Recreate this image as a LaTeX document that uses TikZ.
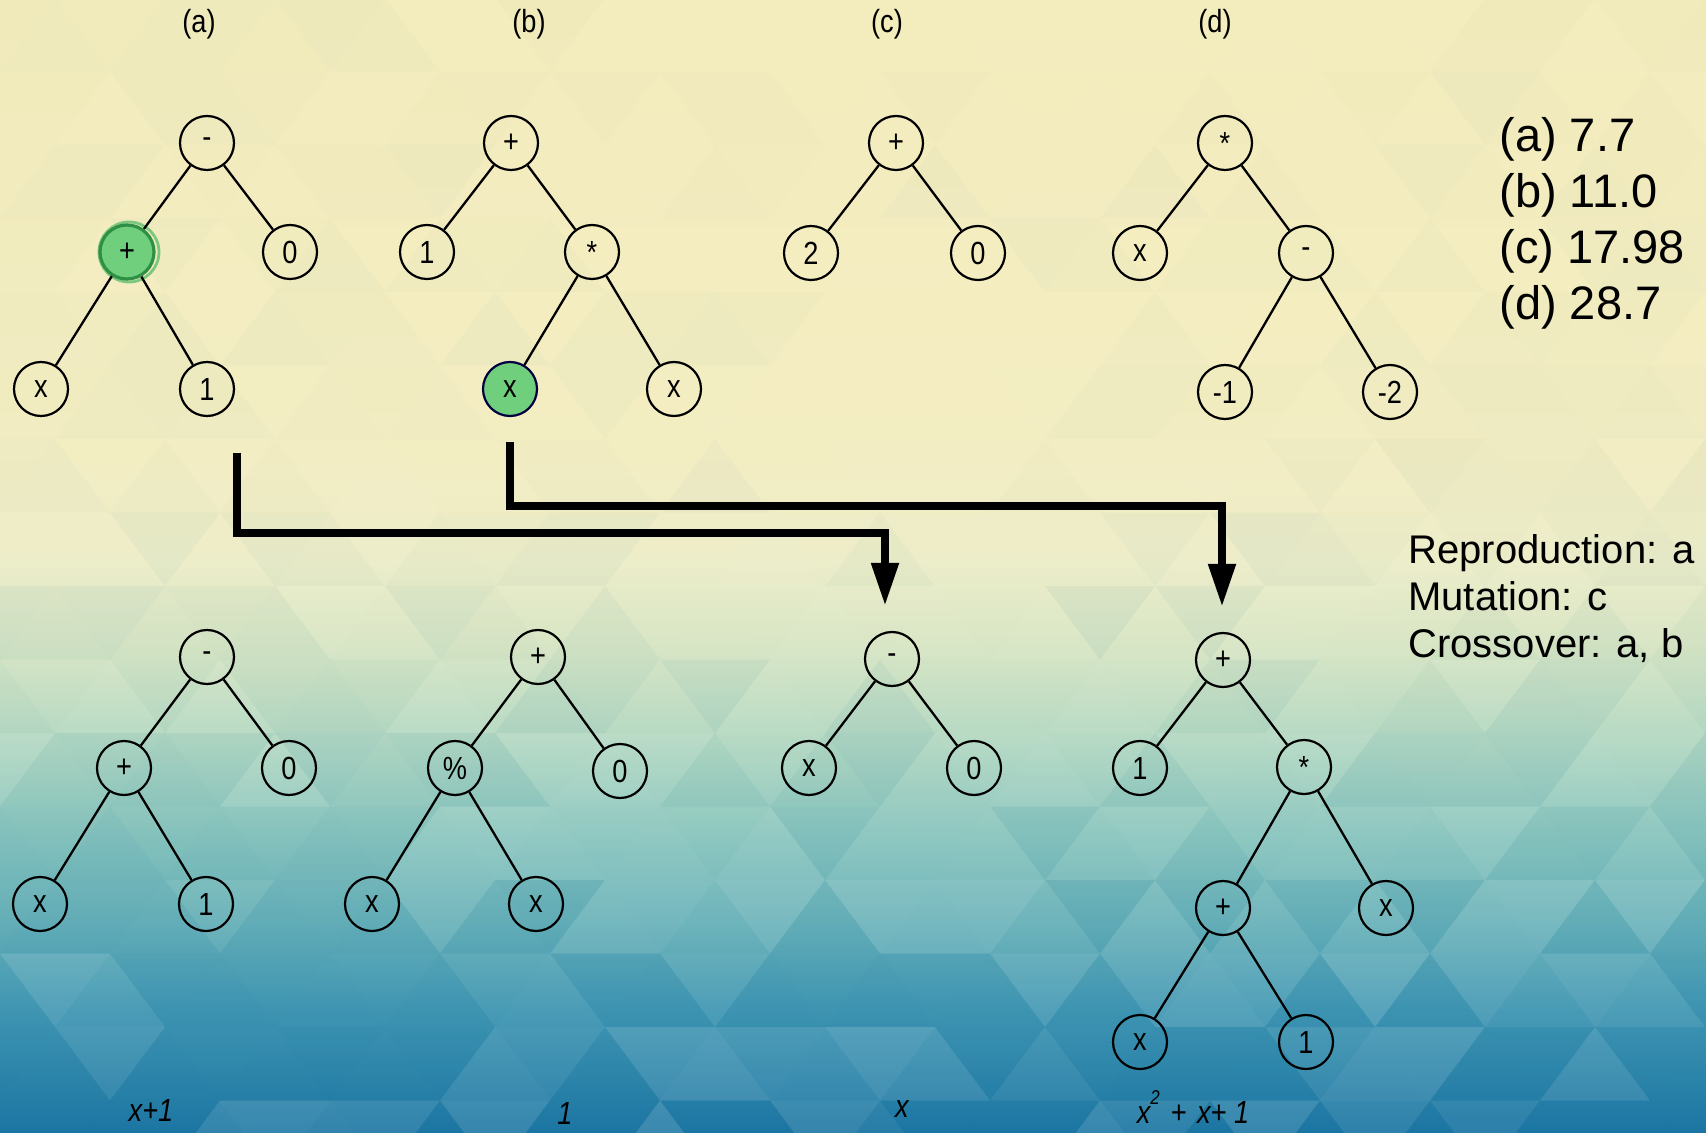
\documentclass[tikz,border=0pt]{standalone}
\usepackage{fontspec}
\setmainfont{Liberation Sans}
\setsansfont{Liberation Sans}
\newfontfamily\narrowsans[FakeStretch=0.85]{Liberation Sans}
\usetikzlibrary{arrows.meta}

% background palette, top (pale yellow) to bottom (deep blue)
\definecolor{bg0}{HTML}{F3ECBC}
\definecolor{bg1}{HTML}{F3EDC2}
\definecolor{bg2}{HTML}{EDEDC8}
\definecolor{bg3}{HTML}{D6E5C4}
\definecolor{bg4}{HTML}{B3D8C2}
\definecolor{bg5}{HTML}{8BC6BE}
\definecolor{bg6}{HTML}{69B2B9}
\definecolor{bg7}{HTML}{4197B3}
\definecolor{bg8}{HTML}{1C76A3}
\definecolor{selgreen}{HTML}{6FCF7D}
\definecolor{selring}{HTML}{2F8F45}
\definecolor{halogreen}{HTML}{4CB863}

\pgfdeclareverticalshading{skyfade}{100bp}{%
  color(0bp)=(bg8); color(25bp)=(bg8); color(30.43bp)=(bg7);
  color(34.40bp)=(bg6); color(38.37bp)=(bg5); color(42.34bp)=(bg4);
  color(46.32bp)=(bg3); color(50.29bp)=(bg2); color(55.14bp)=(bg1);
  color(75bp)=(bg0); color(100bp)=(bg0)}

\tikzset{
  gp/.style={circle, draw=black, line width=1.1pt, minimum size=27pt,
    inner sep=0pt, font=\narrowsans\fontsize{16}{16}\selectfont},
  gpsel/.style={gp, fill=selgreen},
  branch/.style={line width=1.15pt},
  flow/.style={line width=4pt, line join=miter,
    -{Triangle[length=21.5pt,width=13pt]}, shorten >=12.5pt},
  tag/.style={font=\narrowsans\fontsize{16}{16}\selectfont},
  score/.style={anchor=base west, inner sep=0pt, font=\fontsize{23.5}{28}\selectfont},
  opsline/.style={anchor=base west, inner sep=0pt, font=\fontsize{20}{24}\selectfont},
  formula/.style={font=\narrowsans\itshape\fontsize{16}{16}\selectfont},
}

\begin{document}
\begin{tikzpicture}[x=0.5pt, y=-0.5pt]
\useasboundingbox (0,0) rectangle (1706,1133);

% ---------- background: gradient with a faint low-poly triangle lattice
\shade[shading=skyfade] (0,0) rectangle (1706,1133);
\pgfmathsetseed{42}
\begin{scope}
\clip (0,0) rectangle (1706,1133);
\foreach \r in {0,...,15}{
  \foreach \i in {-1,...,16}{
    \pgfmathsetmacro{\ya}{-2+\r*73.5}
    \pgfmathsetmacro{\yb}{\ya+73.5}
    \pgfmathsetmacro{\xa}{\i*110+mod(\r,2)*55}
    \pgfmathsetmacro{\amp}{0.02+0.12*max(0,min(1,(\ya-350)/700))}
    % lighter towards the middle, darker towards the sides
    \pgfmathsetmacro{\pw}{0.78-0.6*abs(\xa+55-880)/880}
    \pgfmathsetmacro{\oa}{(0.3+0.7*rnd)*\amp}
    \pgfmathsetmacro{\ob}{(0.3+0.7*rnd)*\amp}
    \pgfmathtruncatemacro{\sa}{rnd<\pw}
    \pgfmathtruncatemacro{\sb}{rnd<\pw}
    \ifnum\sa=1 \def\ca{white}\else\def\ca{bg8}\fi
    \ifnum\sb=1 \def\cb{white}\else\def\cb{bg8}\fi
    \fill[\ca, fill opacity=\oa] (\xa,\yb) -- ++(110,0) -- ++(-55,-73.5) -- cycle;
    \fill[\cb, fill opacity=\ob] (\xa+55,\ya) -- ++(110,0) -- ++(-55,73.5) -- cycle;
  }
}
\end{scope}

% ---------- generation labels
\node[tag] (ta) at (199,24) {(a)};
\node[tag] (tb) at (529,24) {(b)};
\node[tag] (tc) at (887,24) {(c)};
\node[tag] (td) at (1215,24) {(d)};

% ---------- parent (a): (x+1) - 0
\node[gp] (a1) at (207,143) {-};
\node[circle, minimum size=30pt, inner sep=0pt, draw=halogreen, line width=1.4pt,
      draw opacity=0.7] (a2h) at (129,252) {};
\node[gpsel, draw=selring, line width=1.6pt] (a2) at (127,252) {+};
\node[gp] (a3) at (290,252) {0};
\node[gp] (a4) at (41,389) {x};
\node[gp] (a5) at (207,389) {1};
\draw[branch] (a1) -- (a2) (a1) -- (a3) (a2) -- (a4) (a2) -- (a5);

% ---------- parent (b): 1 + x*x
\node[gp] (b1) at (511,143) {+};
\node[gp] (b2) at (427,252) {1};
\node[gp] (b3) at (592,252) {*};
\node[gpsel, draw=black!75!blue] (b4) at (510,389) {x};
\node[gp] (b5) at (674,389) {x};
\draw[branch] (b1) -- (b2) (b1) -- (b3) (b3) -- (b4) (b3) -- (b5);

% ---------- parent (c): 2 + 0
\node[gp] (c1) at (896,143) {+};
\node[gp] (c2) at (811,253) {2};
\node[gp] (c3) at (978,253) {0};
\draw[branch] (c1) -- (c2) (c1) -- (c3);

% ---------- parent (d): x * (-1 - -2)
\node[gp] (d1) at (1225,143) {*};
\node[gp] (d2) at (1140,253) {x};
\node[gp] (d3) at (1306,253) {-};
\node[gp] (d4) at (1225,392) {-1};
\node[gp] (d5) at (1390,392) {-2};
\draw[branch] (d1) -- (d2) (d1) -- (d3) (d3) -- (d4) (d3) -- (d5);

% ---------- fitness values
\node[score] (fa) at (1499,152) {(a) 7.7};
\node[score] (fb) at (1499,208) {(b) 11.0};
\node[score] (fc) at (1499,264) {(c) 17.98};
\node[score] (fd) at (1499,320) {(d) 28.7};

% ---------- operators used
\node[opsline] (op1) at (1408,563) {Reproduction: a};
\node[opsline] (op2) at (1408,610) {Mutation: c};
\node[opsline] (op3) at (1408,657) {Crossover: a, b};

% ---------- offspring: reproduction of (a)
\node[gp] (A1) at (207,657) {-};
\node[gp] (A2) at (124,768) {+};
\node[gp] (A3) at (289,768) {0};
\node[gp] (A4) at (40,904) {x};
\node[gp] (A5) at (206,904) {1};
\draw[branch] (A1) -- (A2) (A1) -- (A3) (A2) -- (A4) (A2) -- (A5);

% ---------- offspring: mutation of (c)
\node[gp] (B1) at (538,657) {+};
\node[gp] (B2) at (455,768) {\%};
\node[gp] (B3) at (620,771) {0};
\node[gp] (B4) at (372,904) {x};
\node[gp] (B5) at (536,904) {x};
\draw[branch] (B1) -- (B2) (B1) -- (B3) (B2) -- (B4) (B2) -- (B5);

% ---------- offspring: crossover child 1
\node[gp] (C1) at (892,659) {-};
\node[gp] (C2) at (809,768) {x};
\node[gp] (C3) at (974,768) {0};
\draw[branch] (C1) -- (C2) (C1) -- (C3);

% ---------- offspring: crossover child 2
\node[gp] (D1) at (1223,660) {+};
\node[gp] (D2) at (1140,768) {1};
\node[gp] (D3) at (1304,767) {*};
\node[gp] (D4) at (1223,908) {+};
\node[gp] (D5) at (1386,908) {x};
\node[gp] (D6) at (1140,1042) {x};
\node[gp] (D7) at (1306,1042) {1};
\draw[branch] (D1) -- (D2) (D1) -- (D3) (D3) -- (D4) (D3) -- (D5)
              (D4) -- (D6) (D4) -- (D7);

% ---------- crossover flows
\coordinate (s1) at (237,453);
\coordinate (k1) at (885,533);
\coordinate (s2) at (510,442);
\coordinate (k2) at (1222,506);
\draw[flow] (s1) |- (k1) -- (k1 |- C1.north);
\draw[flow] (s2) |- (k2) -- (k2 |- D1.north);

% ---------- simplified expressions
\node[formula] (eA) at (151,1110) {x+1};
\node[formula] (eB) at (565,1113) {1};
\node[formula] (eC) at (902,1109) {x};
\node[formula] (eD) at (1193,1107)
  {x\raisebox{1.1ex}{\fontsize{10}{10}\selectfont 2}\,\,+\,\,x+ 1};
\end{tikzpicture}
\end{document}
